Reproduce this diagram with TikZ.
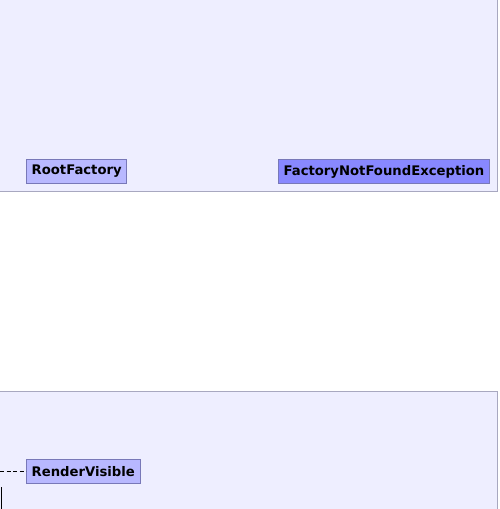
\documentclass[tikz,border=0pt]{standalone}
\usepackage{fontspec}
\setmainfont{DejaVu Sans}
\usetikzlibrary{arrows.meta, calc, positioning}
\definecolor{panelfill}{HTML}{EEEEFF}
\definecolor{paneldraw}{HTML}{A8A8C0}
\definecolor{classfill}{HTML}{B8B8FF}
\definecolor{classdark}{HTML}{8888FF}
\definecolor{classdraw}{HTML}{7878B8}

\begin{document}
\begin{tikzpicture}[x=1pt, y=-1pt,
    classbox/.style={draw=classdraw, fill=classfill, line width=0.9pt, inner xsep=5.2pt,
        minimum height=24pt, font=\fontsize{13.2}{13.2}\selectfont\bfseries, text=black},
    thrown/.style={classbox, fill=classdark}]
    \useasboundingbox (0,0) rectangle (500,509);

    % Upper panel
    \fill[panelfill, draw=paneldraw, line width=0.9pt] (-2,-2) rectangle (497,191);
    \node[classbox, anchor=west] (rootfactory) at (26,171.5) {RootFactory};
    \node[thrown, anchor=east] (notfound) at (490,171.5) {FactoryNotFoundException};

    % Lower panel
    \fill[panelfill, draw=paneldraw, line width=0.9pt] (-2,391) rectangle (497,512);
    \node[classbox, anchor=west] (rendervisible) at (26,471.5) {RenderVisible};
    \coordinate (dashstart) at (0,471.5);
    \draw[dashed, dash pattern=on 4pt off 2.5pt, line width=0.8pt] (dashstart) -- (rendervisible.west);
    \coordinate (edgetop) at (1.5,487);
    \coordinate (edgebot) at (1.5,512);
    \draw[line width=0.9pt] (edgetop) -- (edgebot);
\end{tikzpicture}
\end{document}
